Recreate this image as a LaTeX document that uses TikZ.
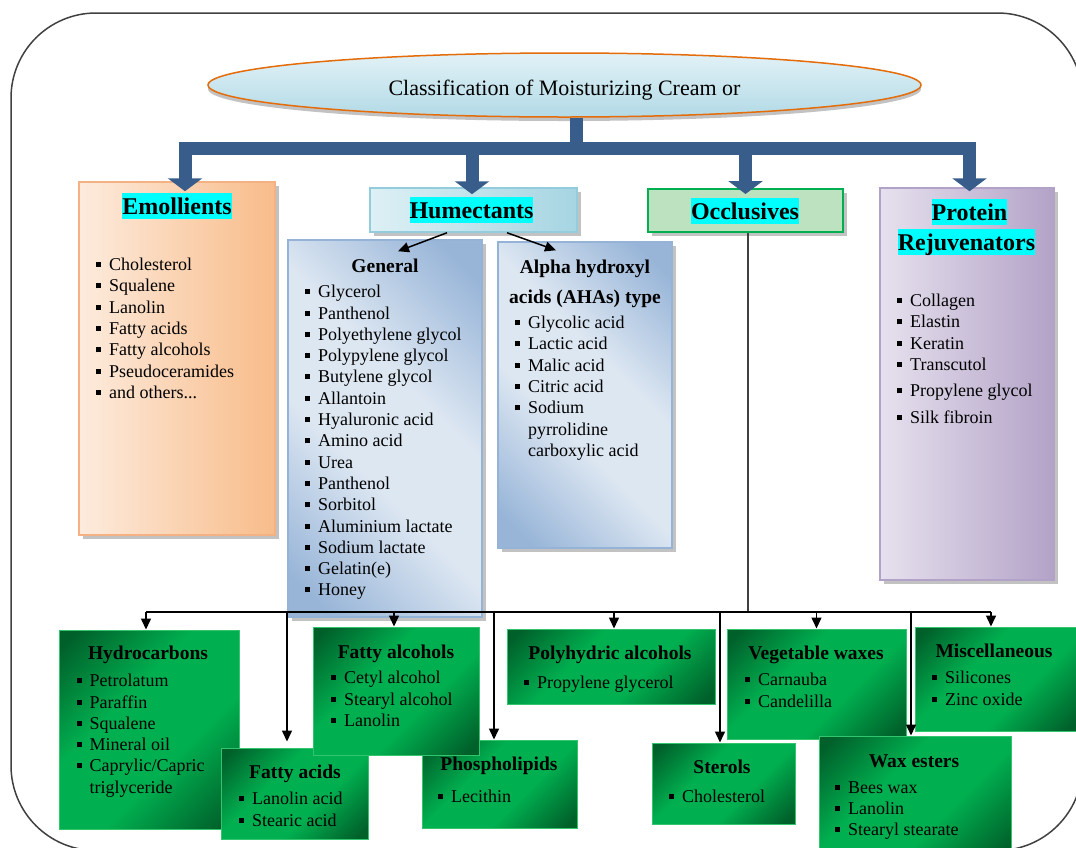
\documentclass[tikz,border=0pt]{standalone}
\usepackage{fontspec}
\setmainfont{Liberation Serif}
\usetikzlibrary{arrows.meta,shadows,shapes.geometric}

\definecolor{barblue}{HTML}{385D8A}
\definecolor{hiCyan}{RGB}{0,255,255}
\definecolor{titleA}{HTML}{E2F2F7}
\definecolor{titleB}{HTML}{B2DAE6}
\definecolor{titleLine}{HTML}{E46C0A}
\definecolor{emolA}{HTML}{FDEBDD}
\definecolor{emolB}{HTML}{F8BC8A}
\definecolor{emolLine}{HTML}{F4B183}
\definecolor{humA}{HTML}{DDF0F5}
\definecolor{humB}{HTML}{A6D5E2}
\definecolor{humLine}{HTML}{93CDDD}
\definecolor{occA}{HTML}{FBFDF8}
\definecolor{occB}{HTML}{BCE2C0}
\definecolor{occLine}{HTML}{00B050}
\definecolor{protA}{HTML}{E6E1EE}
\definecolor{protB}{HTML}{B3A2C7}
\definecolor{genA}{HTML}{DDE7F2}
\definecolor{genB}{HTML}{98B5D8}
\definecolor{genLine}{HTML}{95B3D7}
\definecolor{gDark}{HTML}{00602A}
\definecolor{gBright}{HTML}{00B050}
\definecolor{gLine}{HTML}{33C46E}

\pgfdeclarehorizontalshading{greencorner}{100bp}{color(0bp)=(gDark); color(18bp)=(gDark); color(40bp)=(gBright); color(60bp)=(gBright); color(82bp)=(gDark); color(100bp)=(gDark)}
\pgfdeclarehorizontalshading{bluecorner}{100bp}{color(0bp)=(genB); color(20bp)=(genB); color(42bp)=(genA); color(58bp)=(genA); color(80bp)=(genB); color(100bp)=(genB)}

\newcommand{\sqbul}{\rule[3.5pt]{5pt}{5pt}\hspace{8pt}}
\newcommand{\sqgap}{\hspace*{13pt}}

\begin{document}
\begin{tikzpicture}[x=1pt,y=-1pt,
        every node/.style={inner sep=0pt},
        cat box/.style={draw,line width=1.5pt,
            drop shadow={shadow xshift=4pt,shadow yshift=-4pt,fill=black!40,opacity=.6}},
        sub box/.style={draw=genLine,line width=1.5pt,shade,shading=bluecorner,shading angle=45,
            drop shadow={shadow xshift=4pt,shadow yshift=-4pt,fill=black!40,opacity=.6}},
        green box/.style={draw=gLine,line width=1pt,shade,shading=greencorner,shading angle=-45},
        hilite/.style={fill=hiCyan,font=\fontsize{24}{28}\selectfont\bfseries,
            text height=21pt,text depth=3pt,inner ysep=1pt},
        head/.style={font=\fontsize{19.5}{23}\selectfont\bfseries,text height=16pt,text depth=4pt},
        list/.style={anchor=north west,align=left,font=\fontsize{18}{21.3}\selectfont,
            execute at begin node=\strut},
        blue bar/.style={draw=barblue,line width=13pt},
        blue arrow/.style={blue bar,-{Triangle[width=34pt,length=13pt]}},
        link/.style={draw=black,line width=1.5pt},
        arr/.style={link,-{Triangle[width=10pt,length=11pt]}}]

    \useasboundingbox (0,0) rectangle (1076,847);
    \draw[draw=black!75,line width=1.5pt,rounded corners=85pt] (11,13) rectangle (1082.5,850.5);

    \node[ellipse,draw=titleLine,line width=1.5pt,top color=titleA,bottom color=titleB,
        minimum width=713pt,minimum height=64pt,text height=25pt,text depth=5pt,
        drop shadow={shadow xshift=0pt,shadow yshift=-4pt,fill=black!40,opacity=.6},
        font=\fontsize{22}{26}\selectfont] (title) at (564.5,85) {Classification of Moisturizing Cream or};

    \node[cat box,draw=emolLine,left color=emolA,right color=emolB,
        minimum width=196pt,minimum height=353pt] (emol) at (177,358.5) {};
    \node[hilite] (hEmol) at (177,205.5) {Emollients};
    \node[list] (lEmol) at (96,258) {\sqbul Cholesterol\\ \sqbul Squalene\\ \sqbul Lanolin\\
        \sqbul Fatty acids\\ \sqbul Fatty alcohols\\ \sqbul Pseudoceramides\\ \sqbul and others...};

    \node[cat box,draw=humLine,left color=humA,right color=humB,
        minimum width=207pt,minimum height=44pt] (humec) at (473.5,210) {};
    \node[hilite] (hHumec) at (471.5,209.5) {Humectants};

    \node[cat box,draw=occLine,line width=2pt,left color=occB,middle color=occA,right color=occB,
        minimum width=195pt,minimum height=43pt] (occl) at (745.5,210.5) {};
    \node[hilite] (hOccl) at (745,210.5) {Occlusives};

    \node[cat box,draw=protB,left color=protA,right color=protB,
        minimum width=174pt,minimum height=392pt] (prot) at (967,384) {};
    \node[hilite] (hProt1) at (969.5,211.5) {Protein};
    \node[hilite] (hProt2) at (966.5,241.5) {Rejuvenators};
    \node[list] (lProt) at (897,294) {\sqbul Collagen\\ \sqbul Elastin\\ \sqbul Keratin\\
        \sqbul Transcutol\\[5pt] \sqbul Propylene glycol\\[5pt] \sqbul Silk fibroin};

    \node[sub box,minimum width=194pt,minimum height=377pt] (gen) at (385,428.5) {};
    \node[head] (hGen) at (385,266) {General};
    \node[list] (lGen) at (305,285) {\sqbul Glycerol\\ \sqbul Panthenol\\ \sqbul Polyethylene glycol\\
        \sqbul Polypylene glycol\\ \sqbul Butylene glycol\\ \sqbul Allantoin\\ \sqbul Hyaluronic acid\\
        \sqbul Amino acid\\ \sqbul Urea\\ \sqbul Panthenol\\ \sqbul Sorbitol\\ \sqbul Aluminium lactate\\
        \sqbul Sodium lactate\\ \sqbul Gelatin(e)\\ \sqbul Honey};

    \node[sub box,minimum width=174pt,minimum height=306pt] (aha) at (585,395) {};
    \node[head] (hAha1) at (585,267) {Alpha hydroxyl};
    \node[head] (hAha2) at (585,297) {acids (AHAs) type};
    \node[list] (lAha) at (515,316) {\sqbul Glycolic acid\\ \sqbul Lactic acid\\ \sqbul Malic acid\\
        \sqbul Citric acid\\ \sqbul Sodium\\ \sqgap pyrrolidine\\ \sqgap carboxylic acid};

    \node[green box,minimum width=180pt,minimum height=199pt] (hydro) at (149,729.5) {};
    \node[head] (hHydro) at (148,653) {Hydrocarbons};
    \node[list] (lHydro) at (76.5,674) {\sqbul Petrolatum\\ \sqbul Paraffin\\ \sqbul Squalene\\
        \sqbul Mineral oil\\ \sqbul Caprylic/Capric\\ \sqgap triglyceride};

    \node[green box,minimum width=147pt,minimum height=91pt] (facid) at (294.5,793.5) {};
    \node[head] (hFacid) at (295,772) {Fatty acids};
    \node[list] (lFacid) at (239,792) {\sqbul Lanolin acid\\ \sqbul Stearic acid};

    \node[green box,minimum width=155pt,minimum height=88pt] (phos) at (499.5,784) {};
    \node[head] (hPhos) at (499,764) {Phospholipids};
    \node[list] (lPhos) at (438,787) {\sqbul Lecithin};

    \node[green box,minimum width=166pt,minimum height=128pt] (falc) at (396,691) {};
    \node[head] (hFalc) at (396,652) {Fatty alcohols};
    \node[list] (lFalc) at (331,671) {\sqbul Cetyl alcohol\\ \sqbul Stearyl alcohol\\ \sqbul Lanolin};

    \node[green box,minimum width=208pt,minimum height=75pt] (poly) at (611,666.5) {};
    \node[head] (hPoly) at (610,653) {Polyhydric alcohols};
    \node[list] (lPoly) at (524,673) {\sqbul Propylene glycerol};

    \node[green box,minimum width=143pt,minimum height=81pt] (ster) at (723.5,783.5) {};
    \node[head] (hSter) at (722,767) {Sterols};
    \node[list] (lSter) at (669,787) {\sqbul Cholesterol};

    \node[green box,minimum width=179pt,minimum height=110pt] (veg) at (816.5,684) {};
    \node[head] (hVeg) at (816,653) {Vegetable waxes};
    \node[list] (lVeg) at (745,673) {\sqbul Carnauba\\ \sqbul Candelilla};

    \node[green box,minimum width=165pt,minimum height=104pt] (misc) at (997.5,679) {};
    \node[head] (hMisc) at (994,651) {Miscellaneous};
    \node[list] (lMisc) at (932,671) {\sqbul Silicones\\ \sqbul Zinc oxide};

    \node[green box,minimum width=192pt,minimum height=124pt] (wax) at (915,798) {};
    \node[head] (hWax) at (914,761) {Wax esters};
    \node[list] (lWax) at (835,781) {\sqbul Bees wax\\ \sqbul Lanolin\\ \sqbul Stearyl stearate};

    \coordinate (bar) at (576,148.5);
    \coordinate (bus) at (748,612);

    \draw[blue bar] (title.south -| bar) -- (bar);
    \draw[blue bar,line cap=rect] ([xshift=8pt]emol.north |- bar) -- ([xshift=2.5pt]prot.north |- bar);
    \draw[blue arrow] ([xshift=8pt]emol.north |- bar) -- ([xshift=8pt,yshift=-10pt]emol.north);
    \draw[blue arrow] ([xshift=-1.5pt]humec.north |- bar) -- ([xshift=-1.5pt,yshift=-7pt]humec.north);
    \draw[blue arrow] (occl.north |- bar) -- ([yshift=-6pt]occl.north);
    \draw[blue arrow] ([xshift=2.5pt]prot.north |- bar) -- ([xshift=2.5pt,yshift=-4pt]prot.north);

    \draw[arr] ([xshift=-26.5pt]humec.south) -- ([xshift=13pt,yshift=-12pt]gen.north);
    \draw[arr] ([xshift=33.5pt]humec.south) -- ([xshift=-29pt,yshift=-9pt]aha.north);

    \draw[link,draw=black!75] (occl.south -| bus) -- (bus);
    \draw[link] ([xshift=-3pt]hydro.north |- bus) -- ([xshift=-6.5pt]misc.north |- bus);
    \draw[arr] ([xshift=-3pt]hydro.north |- bus) -- ([xshift=-3pt]hydro.north);
    \draw[arr] ([xshift=-7.5pt]facid.north |- bus) -- ([xshift=-7.5pt,yshift=6pt]facid.north);
    \draw[arr] ([xshift=-2pt]falc.north |- bus) -- ([xshift=-2pt]falc.north);
    \draw[arr] ([xshift=-5.5pt]phos.north |- bus) -- ([xshift=-5.5pt]phos.north);
    \draw[arr] ([xshift=3pt]poly.north |- bus) -- ([xshift=3pt]poly.north);
    \draw[arr] ([xshift=-3.5pt]ster.north |- bus) -- ([xshift=-3.5pt]ster.north);
    \draw[arr] (veg.north |- bus) -- (veg.north);
    \draw[arr] ([xshift=-4pt]wax.north |- bus) -- ([xshift=-4pt]wax.north);
    \draw[arr] ([xshift=-6.5pt]misc.north |- bus) -- ([xshift=-6.5pt]misc.north);
\end{tikzpicture}
\end{document}
